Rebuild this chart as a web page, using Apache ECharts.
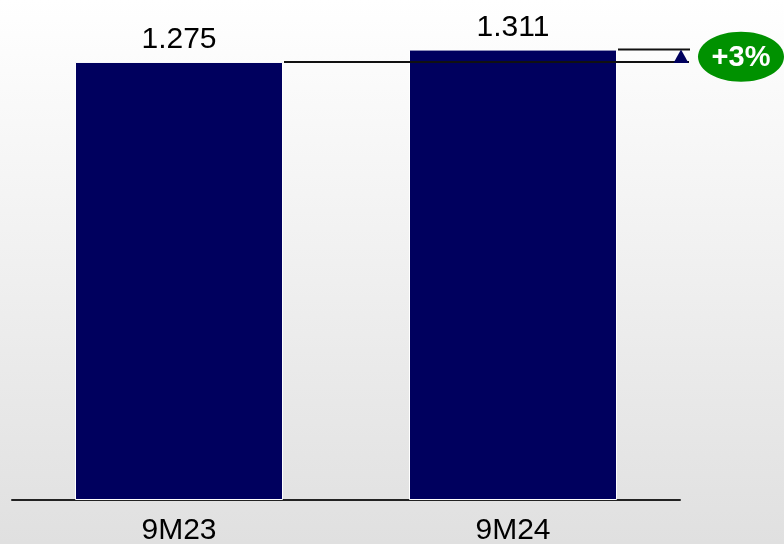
<!DOCTYPE html>
<html>
<head>
<meta charset="utf-8">
<script src="https://cdn.jsdelivr.net/npm/echarts@6/dist/echarts.min.js"></script>
<style>
  html, body { margin: 0; padding: 0; }
  #chart { width: 784px; height: 544px; }
</style>
</head>
<body>
<div id="chart"></div>
<script>
// data
const categories = ['9M23', '9M24']
const values = [1.275, 1.311]
const changeLabel = '+3%'

const navy = '#00005e'
const chart = echarts.init(document.getElementById('chart'))

const option = {
  backgroundColor: new echarts.graphic.LinearGradient(0, 0, 0, 1, [
    { offset: 0, color: '#ffffff' },
    { offset: 1, color: '#e0e0e0' }
  ]),
  animation: false,
  grid: { left: 12, right: 104, top: 19, bottom: 44, containLabel: false, outerBoundsMode: 'none' },
  xAxis: {
    type: 'category',
    data: categories,
    axisLine: { lineStyle: { color: '#222', width: 2 } },
    axisTick: { show: false },
    axisLabel: {
      color: '#000',
      fontFamily: 'Liberation Sans, Arial',
      fontSize: 30,
      margin: 16
    }
  },
  yAxis: {
    type: 'value',
    min: 0,
    max: 1.4,
    show: false,
    splitLine: { show: false }
  },
  series: [{
    type: 'bar',
    data: values,
    barWidth: 208,
    itemStyle: { color: navy, borderColor: '#ffffff', borderWidth: 1 },
    label: {
      show: true,
      position: 'top',
      distance: 7,
      color: '#000',
      fontFamily: 'Liberation Sans, Arial',
      fontSize: 30,
      formatter: p => p.value.toFixed(3)
    }
  }]
}
chart.setOption(option)

// comparison annotation, placed through the chart's own scales
const p1 = chart.convertToPixel({ seriesIndex: 0 }, [0, values[0]])
const p2 = chart.convertToPixel({ seriesIndex: 0 }, [1, values[1]])
const arrowX = 681
chart.setOption({
  graphic: [
    {
      type: 'line',
      shape: { x1: p1[0] + 105, y1: p1[1], x2: arrowX + 8, y2: p1[1] },
      style: { stroke: '#111', lineWidth: 2 },
      z: 100
    },
    {
      type: 'line',
      shape: { x1: p2[0] + 105, y1: p2[1], x2: arrowX + 9, y2: p2[1] },
      style: { stroke: '#111', lineWidth: 2 },
      z: 100
    },
    {
      type: 'polygon',
      shape: { points: [[arrowX, p2[1]], [arrowX - 7.5, p1[1] + 1], [arrowX + 7.5, p1[1] + 1]] },
      style: { fill: navy },
      z: 101
    },
    {
      type: 'ellipse',
      shape: { cx: 741, cy: (p1[1] + p2[1]) / 2 + 1, rx: 43, ry: 25 },
      style: { fill: '#009100' },
      z: 100
    },
    {
      type: 'text',
      x: 741,
      y: (p1[1] + p2[1]) / 2 + 2,
      style: {
        text: changeLabel,
        fill: '#fff',
        font: 'bold 29px Liberation Sans, Arial',
        align: 'center',
        verticalAlign: 'middle'
      },
      z: 102
    }
  ]
})
</script>
</body>
</html>
